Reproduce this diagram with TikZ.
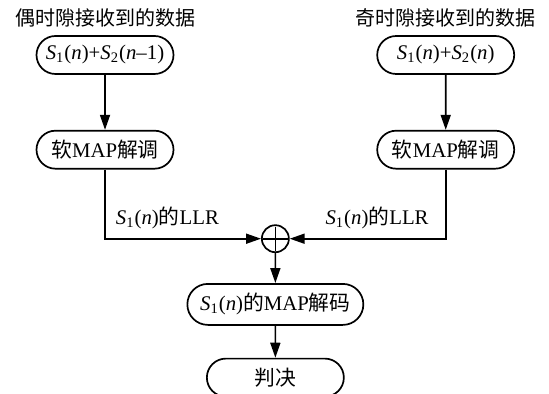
\documentclass[tikz,border=0pt]{standalone}
\usepackage{fontspec}
\setmainfont{Liberation Serif}
\newfontfamily\cjk{Noto Sans CJK SC}
\usetikzlibrary{shapes.misc, arrows.meta, positioning, calc}

\newcommand{\sig}[2]{\textit{S}\textsubscript{#1}(#2)}

\begin{document}
\begin{tikzpicture}[
    font = \fontsize{10.4pt}{12pt}\selectfont,
    node distance = 27.5pt,
    block/.style = {draw, rounded rectangle, line width=0.85pt, minimum height=19pt, minimum width=70.5pt, inner sep=1pt},
    title/.style = {inner sep=1pt, font=\fontsize{10pt}{12pt}\selectfont},
    sum/.style = {draw, circle, line width=0.85pt, minimum size=13.5pt, inner sep=0pt},
    line/.style = {-{Triangle[length=7.5pt, width=5pt]}, line width=0.85pt}
]
    \useasboundingbox (0,0) rectangle (274.5pt,-197pt);

    % Nodes
    \node [block] (evenin) at (52.5pt,-27.5pt) {\sig{1}{\textit{n}}+\sig{2}{\textit{n}–1}};
    \node [block, right=101pt of evenin] (oddin) {\sig{1}{\textit{n}}+\sig{2}{\textit{n}}};
    \node [title, above=3pt of evenin] (eventitle) {\cjk 偶时隙接收到的数据};
    \node [title, above=3pt of oddin] (oddtitle) {\cjk 奇时隙接收到的数据};
    \node [block, below=of evenin] (evendem) {{\cjk 软}MAP{\cjk 解调}};
    \node [block, below=of oddin] (odddem) {{\cjk 软}MAP{\cjk 解调}};
    \node [sum] (sum) at ($(evendem)!0.5!(odddem)+(0,-44.5pt)$) {};
    \draw [line width=0.85pt] ([yshift=-1.1pt]sum.north) -- ([yshift=1.1pt]sum.south)
        ([xshift=1.1pt]sum.west) -- ([xshift=-1.1pt]sum.east);
    \node [block, minimum width=90pt, minimum height=20.5pt, below=15pt of sum] (decode) {\sig{1}{\textit{n}}{\cjk 的}MAP{\cjk 解码}};
    \node [block, below=16pt of decode] (decide) {\cjk 判决};

    % Edges
    \draw [line] (evenin) -- (evendem);
    \draw [line] (oddin) -- (odddem);
    \draw [line] (evendem) |- node [pos=0.7, above=1pt] {\sig{1}{\textit{n}}{\cjk 的}LLR} (sum);
    \draw [line] (odddem) |- node [pos=0.72, above=1pt] {\sig{1}{\textit{n}}{\cjk 的}LLR} (sum);
    \draw [line] (sum) -- (decode);
    \draw [line] (decode) -- (decide);

\end{tikzpicture}
\end{document}
